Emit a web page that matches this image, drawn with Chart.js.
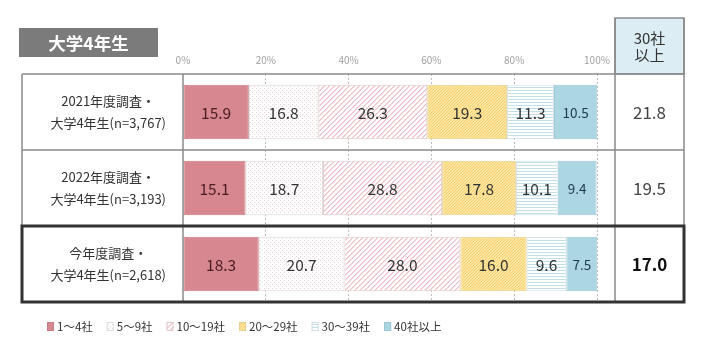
<!DOCTYPE html>
<html><head><meta charset="utf-8">
<script src="https://cdn.jsdelivr.net/npm/chart.js@4.4.1/dist/chart.umd.min.js"></script>
<style>html,body{margin:0;padding:0;background:#fff;}canvas{display:block;}</style>
</head><body>
<canvas id="c" width="704" height="344"></canvas>
<script>
// ---- data ----
const categories = [
  ['2021年度調査・', '大学4年生(n=3,767)'],
  ['2022年度調査・', '大学4年生(n=3,193)'],
  ['今年度調査・', '大学4年生(n=2,618)']
];
const seriesNames = ['1〜4社', '5〜9社', '10〜19社', '20〜29社', '30〜39社', '40社以上'];
const s1to4   = [15.9, 15.1, 18.3];
const s5to9   = [16.8, 18.7, 20.7];
const s10to19 = [26.3, 28.8, 28.0];
const s20to29 = [19.3, 17.8, 16.0];
const s30to39 = [11.3, 10.1, 9.6];
const s40plus = [10.5, 9.4, 7.5];
const over30  = [21.8, 19.5, 17.0];
const xTicks  = [0, 20, 40, 60, 80, 100];
const titleText = '大学4年生';
const sideHeader = ['30社', '以上'];

const FONT = '"Noto Sans CJK JP", "Noto Sans", sans-serif';

function pattern(type) {
  const c = document.createElement('canvas');
  const g = c.getContext('2d');
  if (type === 'pinkdots') {
    c.width = 4; c.height = 4;
    g.fillStyle = '#ffffff'; g.fillRect(0, 0, 4, 4);
    g.fillStyle = '#efd2d5'; g.fillRect(0, 0, 1, 1); g.fillRect(2, 2, 1, 1);
  } else if (type === 'diag') {
    c.width = 5; c.height = 5;
    g.fillStyle = '#ffffff'; g.fillRect(0, 0, 5, 5);
    for (let i = 0; i < 5; i++) {
      g.fillStyle = '#eebfc4'; g.fillRect(i, 4 - i, 1, 1);
      g.fillStyle = '#f6dadd'; g.fillRect((i + 1) % 5, 4 - i, 1, 1);
    }
  } else if (type === 'yellow') {
    c.width = 3; c.height = 3;
    g.fillStyle = '#fde6a2'; g.fillRect(0, 0, 3, 3);
    g.fillStyle = '#f4cf6c'; g.fillRect(0, 0, 1, 1); g.fillRect(1, 2, 1, 1); g.fillRect(2, 1, 1, 1);
  } else if (type === 'hstripe') {
    c.width = 3; c.height = 3;
    g.fillStyle = '#ffffff'; g.fillRect(0, 0, 3, 3);
    g.fillStyle = '#c0dfe9'; g.fillRect(0, 0, 3, 1);
  }
  return g.createPattern(c, 'repeat');
}

const fills = ['#d7878f', pattern('pinkdots'), pattern('diag'), pattern('yellow'), pattern('hstripe'), '#acd6e2'];
const borders = ['#c97b84', '#dcdcdc', '#e2c9cc', '#e6cf8e', '#cfdfe5', '#9cc6d3'];
const labelColors = ['#4a1d22', '#333333', '#333333', '#333333', '#333333', '#1d3a4a'];
const seriesData = [s1to4, s5to9, s10to19, s20to29, s30to39, s40plus];

const tablePlugin = {
  id: 'tablePlugin',
  afterDatasetsDraw(chart) {
    const ctx = chart.ctx;
    ctx.save();
    ctx.textAlign = 'center';
    ctx.textBaseline = 'middle';
    chart.data.datasets.forEach((ds, di) => {
      const meta = chart.getDatasetMeta(di);
      meta.data.forEach((el, i) => {
        const v = ds.data[i];
        ctx.font = (di === 5 ? '13.5px ' : '15.5px ') + FONT;
        ctx.fillStyle = labelColors[di];
        ctx.fillText(v.toFixed(1), (el.x + el.base) / 2, el.y + 1);
      });
    });
    ctx.restore();
  },
  afterDraw(chart) {
    const ctx = chart.ctx;
    const ca = chart.chartArea;
    const ys = chart.scales.y;
    const n = categories.length;
    const rowH = (ca.bottom - ca.top) / n;
    const L = 22, sepX = ca.right + 18, R = sepX + 69, headTop = 18;
    ctx.save();
    // header cell
    ctx.fillStyle = '#dcedf4';
    ctx.fillRect(sepX, headTop, R - sepX, ca.top - headTop);
    ctx.strokeStyle = '#8a8a8a';
    ctx.lineWidth = 1.5;
    ctx.strokeRect(sepX, headTop, R - sepX, ca.top - headTop);
    ctx.fillStyle = '#333';
    ctx.font = '15px ' + FONT;
    ctx.textAlign = 'center';
    ctx.textBaseline = 'middle';
    ctx.fillText(sideHeader[0], (sepX + R) / 2, 38);
    ctx.fillText(sideHeader[1], (sepX + R) / 2, 55);
    // table rules
    ctx.beginPath();
    ctx.moveTo(L, ca.top); ctx.lineTo(R, ca.top);
    for (let i = 1; i < n; i++) { const y = ca.top + rowH * i; ctx.moveTo(L, y); ctx.lineTo(R, y); }
    ctx.moveTo(L, ca.bottom); ctx.lineTo(R, ca.bottom);
    ctx.moveTo(L, ca.top); ctx.lineTo(L, ca.bottom);
    ctx.moveTo(ca.left, ca.top); ctx.lineTo(ca.left, ca.bottom);
    ctx.moveTo(sepX, headTop); ctx.lineTo(sepX, ca.bottom);
    ctx.moveTo(R, headTop); ctx.lineTo(R, ca.bottom);
    ctx.stroke();
    // highlighted row
    ctx.strokeStyle = '#333';
    ctx.lineWidth = 3;
    ctx.strokeRect(L, ca.top + rowH * (n - 1), R - L, rowH);
    // right column values
    over30.forEach((v, i) => {
      const y = ys.getPixelForValue(i);
      ctx.font = (i === n - 1 ? '700 17px ' : '17px ') + FONT;
      ctx.fillStyle = i === n - 1 ? '#111' : '#444';
      ctx.fillText(v.toFixed(1), (sepX + R) / 2, y + 1);
    });
    // title box
    ctx.fillStyle = '#7b7b7b';
    ctx.fillRect(19, 28, 139, 29);
    ctx.fillStyle = '#fff';
    ctx.font = '700 17.5px ' + FONT;
    ctx.fillText(titleText, 88.5, 43);
    // legend
    let x = 47;
    const ly = 326;
    ctx.textAlign = 'left';
    ctx.font = '11.5px ' + FONT;
    chart.data.datasets.forEach((ds, di) => {
      ctx.fillStyle = ds.backgroundColor;
      ctx.fillRect(x, ly - 4, 7, 9);
      ctx.strokeStyle = ds.borderColor;
      ctx.lineWidth = 1;
      ctx.strokeRect(x + 0.5, ly - 3.5, 6, 8);
      ctx.fillStyle = '#333';
      ctx.fillText(ds.label, x + 10, ly + 1);
      x += 10 + ctx.measureText(ds.label).width + 14;
    });
    ctx.restore();
  }
};

new Chart(document.getElementById('c'), {
  type: 'bar',
  data: {
    labels: categories,
    datasets: seriesNames.map((name, i) => ({
      label: name,
      data: seriesData[i],
      backgroundColor: fills[i],
      borderColor: borders[i],
      borderWidth: 1,
      borderSkipped: false,
      barPercentage: 0.72,
      categoryPercentage: 1
    }))
  },
  options: {
    indexAxis: 'y',
    responsive: false,
    animation: false,
    devicePixelRatio: 1,
    layout: { padding: { left: 22, right: 107, top: 44, bottom: 42 } },
    plugins: { legend: { display: false }, tooltip: { enabled: false } },
    scales: {
      x: {
        position: 'top',
        stacked: true,
        min: 0, max: 100,
        afterBuildTicks(s) { s.ticks = xTicks.map(v => ({ value: v })); },
        afterFit(s) { s.height = 30; },
        ticks: {
          callback: v => v + '%',
          font: { family: FONT, size: 10 },
          color: '#a0a0a0',
          padding: 8,
          maxRotation: 0
        },
        grid: {
          drawTicks: false,
          color: c => (c.tick && c.tick.value === 0) ? 'rgba(0,0,0,0)' : '#bcbcbc',
          lineWidth: 1
        },
        border: { display: false, dash: [2, 2] }
      },
      y: {
        stacked: true,
        afterFit(s) { s.width = 161; },
        ticks: {
          crossAlign: 'center',
          padding: 17,
          color: '#333',
          font: { family: FONT, size: 13, lineHeight: 1.75 }
        },
        grid: { display: false, drawTicks: false },
        border: { display: false }
      }
    }
  },
  plugins: [tablePlugin]
});
</script>
</body></html>
